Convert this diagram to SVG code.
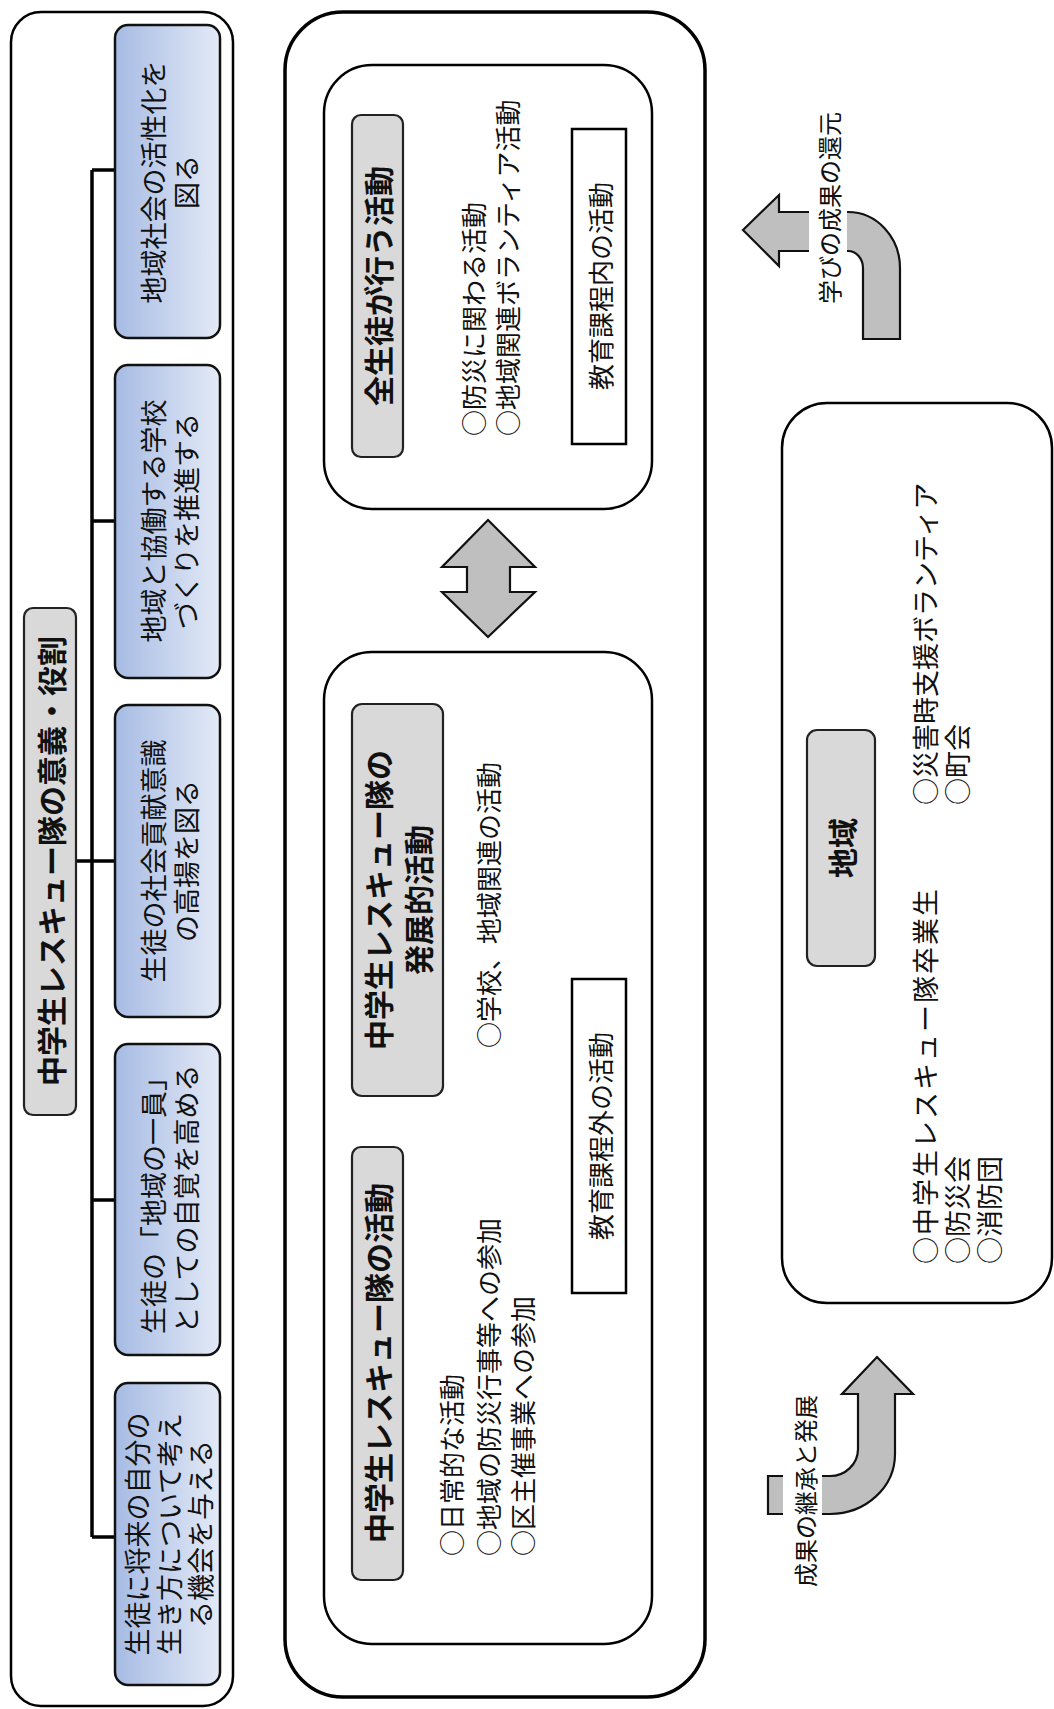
<svg xmlns="http://www.w3.org/2000/svg" width="1054" height="1709" viewBox="0 0 1054 1709">
<defs>
<linearGradient id="blueGrad" x1="0" y1="0" x2="1" y2="0">
<stop offset="0" stop-color="#a6bbe4"/>
<stop offset="1" stop-color="#e4eaf6"/>
</linearGradient>
<style>
.t{font-family:"Noto Sans CJK JP","Noto Sans CJK SC",sans-serif;fill:#111;dominant-baseline:central}
.c{text-anchor:middle}
.s{text-anchor:start}
.b{font-weight:bold;font-size:30px}
.n27{font-size:27px}
.n26{font-size:26px}
.n24{font-size:24px}
.panel{fill:#fff;stroke:#000;stroke-width:2.5}
.outer{fill:#fff;stroke:#000;stroke-width:3.5}
.gray{fill:#d9d9d9;stroke:#222;stroke-width:2.2}
.blue{fill:url(#blueGrad);stroke:#111;stroke-width:2.5}
.wbox{fill:#fff;stroke:#000;stroke-width:2.5}
.arrow{fill:#bfbfbf;stroke:#111;stroke-width:2.2;stroke-linejoin:miter}
.conn{fill:none;stroke:#000;stroke-width:3.5}
</style>
</defs>
<rect width="1054" height="1709" fill="#fff"/>

<!-- Left panel -->
<g id="left-panel">
<rect class="panel" x="11" y="12" width="222" height="1694" rx="30"/>
</g>

<g id="connectors">
<path class="conn" d="M76,861 H92 M92,170 V1537 M92,170 H115 M92,521 H115 M92,861 H115 M92,1200 H115 M92,1537 H115"/>
</g>

<g id="title-significance">
<rect class="gray" x="24" y="608" width="52" height="507" rx="9"/>
<text class="t c b" transform="translate(50,861) rotate(-90)">中学生レスキュー隊の意義・役割</text>
</g>

<g id="role-1">
<rect class="blue" x="115" y="25" width="105" height="313" rx="13"/>
<text class="t c n27" transform="translate(152,182) rotate(-90)">地域社会の活性化を</text>
<text class="t c n27" transform="translate(185,182) rotate(-90)">図る</text>
</g>
<g id="role-2">
<rect class="blue" x="115" y="365" width="105" height="313" rx="13"/>
<text class="t c n27" transform="translate(152,521) rotate(-90)">地域と協働する学校</text>
<text class="t c n27" transform="translate(185,521) rotate(-90)">づくりを推進する</text>
</g>
<g id="role-3">
<rect class="blue" x="115" y="705" width="105" height="312" rx="13"/>
<text class="t c n27" transform="translate(152,861) rotate(-90)">生徒の社会貢献意識</text>
<text class="t c n27" transform="translate(185,861) rotate(-90)">の高揚を図る</text>
</g>
<g id="role-4">
<rect class="blue" x="115" y="1044" width="105" height="311" rx="13"/>
<text class="t c n27" transform="translate(152,1199) rotate(-90)">生徒の「地域の一員」</text>
<text class="t c n27" transform="translate(185,1199) rotate(-90)">としての自覚を高める</text>
</g>
<g id="role-5">
<rect class="blue" x="115" y="1383" width="105" height="302" rx="13"/>
<text class="t c n27" transform="translate(136,1534) rotate(-90)">生徒に将来の自分の</text>
<text class="t c n27" transform="translate(168,1534) rotate(-90)">生き方について考え</text>
<text class="t c n27" transform="translate(199,1534) rotate(-90)">る機会を与える</text>
</g>

<!-- Middle panel -->
<g id="activities-panel">
<rect class="outer" x="285" y="12" width="420" height="1685" rx="58"/>
</g>

<g id="all-students">
<rect class="panel" x="324" y="65" width="328" height="444" rx="48"/>
<rect class="gray" x="352" y="115" width="51" height="342" rx="9"/>
<text class="t c b" transform="translate(377,286) rotate(-90)">全生徒が行う活動</text>
<text class="t s n26" transform="translate(472,436) rotate(-90)">○防災に関わる活動</text>
<text class="t s n26" transform="translate(506,436) rotate(-90)">○地域関連ボランティア活動</text>
<rect class="wbox" x="572" y="129" width="54" height="315"/>
<text class="t c n26" transform="translate(599,286) rotate(-90)">教育課程内の活動</text>
</g>

<g id="double-arrow">
<polygon class="arrow" points="488,520 535,567 510,567 510,592 535,592 488,637 442,592 467,592 467,567 442,567"/>
</g>

<g id="rescue-team">
<rect class="panel" x="324" y="652" width="328" height="992" rx="48"/>
<rect class="gray" x="352" y="704" width="91" height="392" rx="10"/>
<text class="t c b" transform="translate(377,900) rotate(-90)">中学生レスキュー隊の</text>
<text class="t c b" transform="translate(417,900) rotate(-90)">発展的活動</text>
<text class="t s n26" transform="translate(487,1048) rotate(-90)">○学校、地域関連の活動</text>
<rect class="wbox" x="572" y="979" width="54" height="314"/>
<text class="t c n26" transform="translate(599,1136) rotate(-90)">教育課程外の活動</text>
<rect class="gray" x="352" y="1147" width="51" height="433" rx="9"/>
<text class="t c b" transform="translate(377,1363) rotate(-90)">中学生レスキュー隊の活動</text>
<text class="t s n26" transform="translate(450,1556) rotate(-90)">○日常的な活動</text>
<text class="t s n26" transform="translate(487,1556) rotate(-90)">○地域の防災行事等への参加</text>
<text class="t s n26" transform="translate(521,1556) rotate(-90)">○区主催事業への参加</text>
</g>

<!-- Right side -->
<g id="return-arrow">
<path class="arrow" d="M743,230 L779,195 L779,212 L848,212 A52,56 0 0 1 900,268 L900,339 L863,339 L863,268 A15,17 0 0 0 848,251 L779,251 L779,266 Z"/>
<rect x="809" y="108" width="38" height="200" fill="#fff"/>
<text class="t c n24" transform="translate(828,208) rotate(-90)">学びの成果の還元</text>
</g>

<g id="region">
<rect class="panel" x="782" y="403" width="270" height="900" rx="45"/>
<rect class="gray" x="807" y="730" width="68" height="236" rx="10"/>
<text class="t c b" transform="translate(841,848) rotate(-90)">地域</text>
<text class="t s n27" letter-spacing="2" transform="translate(924,1264) rotate(-90)">○中学生レスキュー隊卒業生</text>
<text class="t s n27" transform="translate(956,1264) rotate(-90)">○防災会</text>
<text class="t s n27" transform="translate(988,1264) rotate(-90)">○消防団</text>
<text class="t s n27" transform="translate(924,805) rotate(-90)">○災害時支援ボランティア</text>
<text class="t s n27" transform="translate(956,805) rotate(-90)">○町会</text>
</g>

<g id="inherit-arrow">
<path class="arrow" d="M768,1476 L830,1476 A28,27 0 0 0 858,1449 L858,1394 L842,1394 L877,1357 L913,1394 L895,1394 L895,1454 A65,60 0 0 1 830,1514 L768,1514 Z"/>
<rect x="783" y="1392" width="39" height="198" fill="#fff"/>
<text class="t c n24" transform="translate(804,1491) rotate(-90)">成果の継承と発展</text>
</g>
</svg>
